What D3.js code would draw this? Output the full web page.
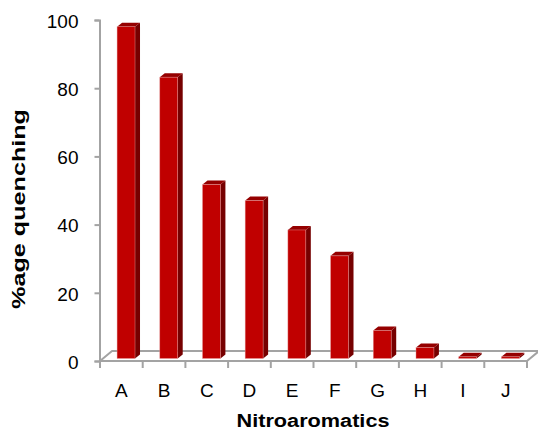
<!DOCTYPE html>
<html>
<head>
<meta charset="utf-8">
<script src="https://cdn.jsdelivr.net/npm/d3@7"></script>
<style>
  html, body { margin: 0; padding: 0; background: #fff; }
  svg { display: block; font-family: "Liberation Sans", Arial, sans-serif; }
</style>
</head>
<body>
<svg id="chart" width="538" height="432"></svg>
<script>
// Quenching efficiency per nitroaromatic analyte
const categories = ["A", "B", "C", "D", "E", "F", "G", "H", "I", "J"];
const quenching = [97.3, 82.5, 51, 46.3, 37.7, 30.1, 8.2, 3.2, 0.5, 0.5];
const yTicks = [0, 20, 40, 60, 80, 100];

const svg = d3.select("#chart");

const x = d3.scaleBand().domain(categories).range([100, 527]).padding(0);
const y = d3.scaleLinear().domain([0, 100]).range([361, 20]);

// oblique depth of the floor and of each column
const floorDepth = { dx: 12, dy: -10 };
const colDepth = { dx: 5, dy: -4 };
const setBack = 2.5;            // columns sit slightly behind the floor front edge
const gridColor = "#a3a3a3";

// floor (drawn first so columns cover its back edge)
const y0 = y(0);
const fx0 = x.range()[0], fx1 = x.range()[1];
svg.append("path")
  .attr("d", `M${fx0},${y0} L${fx1},${y0} L${fx1 + floorDepth.dx},${y0 + floorDepth.dy} L${fx0 + floorDepth.dx},${y0 + floorDepth.dy} Z`)
  .attr("fill", "#fff")
  .attr("stroke", gridColor)
  .attr("stroke-width", 2)
  .attr("stroke-linejoin", "round");

// vertical value axis
const yAxis = d3.axisLeft(y).tickValues(yTicks).tickSize(5).tickPadding(16);
const yg = svg.append("g").attr("transform", "translate(99.5,0)").call(yAxis);
yg.select(".domain").attr("stroke", gridColor).attr("stroke-width", 2);
yg.selectAll(".tick line").attr("stroke", gridColor).attr("stroke-width", 2);
yg.selectAll(".tick text")
  .attr("font-family", "Liberation Sans, Arial, sans-serif")
  .attr("font-size", 19)
  .attr("fill", "#000")
  .attr("dy", "0.38em");

// category tick marks at band boundaries
const bounds = categories.map(c => x(c)).concat([fx1]);
svg.append("g").selectAll("line").data(bounds).join("line")
  .attr("x1", d => d).attr("x2", d => d)
  .attr("y1", y0).attr("y2", y0 + 7)
  .attr("stroke", gridColor).attr("stroke-width", 2);

// category labels
svg.append("g").selectAll("text").data(categories).join("text")
  .attr("x", d => x(d) + x.bandwidth() / 2)
  .attr("y", 397)
  .attr("text-anchor", "middle")
  .attr("font-size", 19)
  .attr("fill", "#000")
  .text(d => d);

// 3D columns
const bw = x.bandwidth();
const colW = bw * 0.42;
const colOff = bw * 0.4;
const cols = svg.append("g").selectAll("g").data(categories.map((c, i) => ({ c, v: quenching[i] }))).join("g");

cols.each(function (d) {
  const g = d3.select(this);
  const xl = x(d.c) + colOff;
  const xr = xl + colW;
  const base = y0 - setBack;
  const top = base - (y0 - y(d.v));
  const { dx, dy } = colDepth;
  // right side face
  g.append("path")
    .attr("d", `M${xr},${base} L${xr + dx},${base + dy} L${xr + dx},${top + dy} L${xr},${top} Z`)
    .attr("fill", "#760000");
  // top face
  g.append("path")
    .attr("d", `M${xl},${top} L${xr},${top} L${xr + dx},${top + dy} L${xl + dx},${top + dy} Z`)
    .attr("fill", "#950000");
  // front face
  g.append("rect")
    .attr("x", xl).attr("y", top)
    .attr("width", colW).attr("height", Math.max(0, base - top))
    .attr("fill", "#c00000")
    .attr("stroke", "#e8a0a0")
    .attr("stroke-width", 0.6)
    .attr("stroke-opacity", 0.7);
});

// axis titles
svg.append("text")
  .attr("x", 313).attr("y", 427)
  .attr("text-anchor", "middle")
  .attr("font-size", 18)
  .attr("font-weight", "bold")
  .attr("fill", "#000")
  .attr("textLength", 153)
  .attr("lengthAdjust", "spacingAndGlyphs")
  .text("Nitroaromatics");

svg.append("text")
  .attr("transform", "translate(25,209) rotate(-90)")
  .attr("text-anchor", "middle")
  .attr("font-size", 18)
  .attr("font-weight", "bold")
  .attr("fill", "#000")
  .attr("textLength", 200)
  .attr("lengthAdjust", "spacingAndGlyphs")
  .text("%age quenching");
</script>
</body>
</html>
